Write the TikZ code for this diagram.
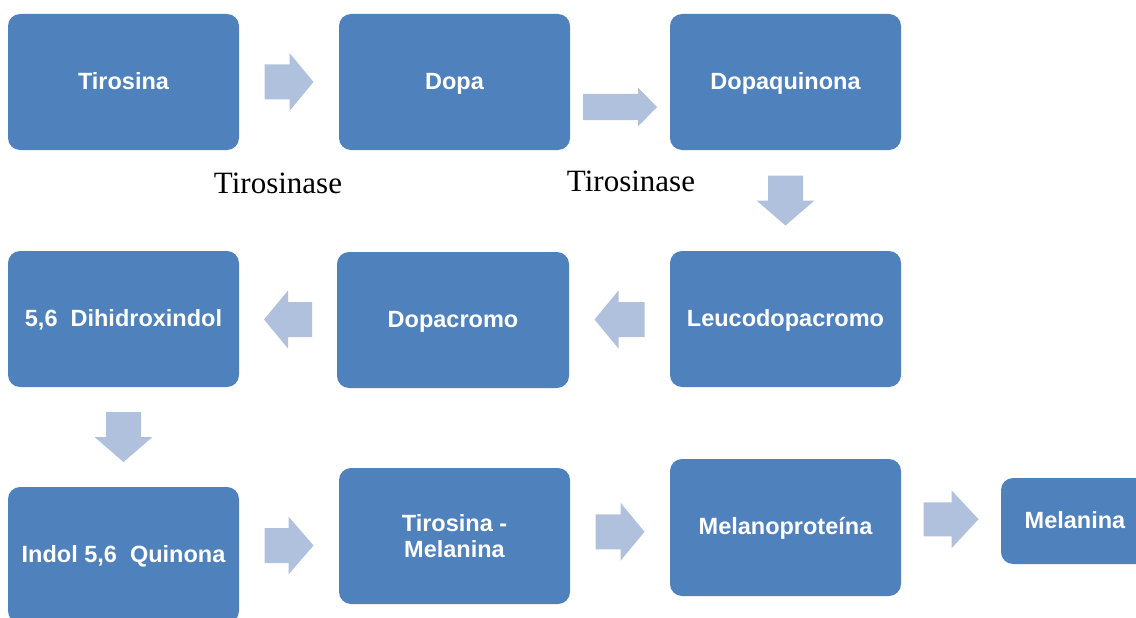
\documentclass[tikz,border=0pt]{standalone}
\usepackage{fontspec}
\setmainfont{Liberation Serif}
\setsansfont{Liberation Sans}
\usetikzlibrary{calc}
\definecolor{boxblue}{RGB}{79,129,189}
\definecolor{arrowblue}{RGB}{176,193,222}
\tikzset{
    stage_box/.style = {
        fill=boxblue,
        text=white,
        rounded corners=12pt,
        minimum width=231pt,
        minimum height=136pt,
        inner sep=0pt,
        align=center,
        font=\sffamily\bfseries\fontsize{23.5}{26}\selectfont
    },
    one_line/.style = {
        text height=18pt,
        text depth=4pt
    },
    flow_arrow/.style = {
        fill=arrowblue,
        draw=none
    },
    enzyme_label/.style = {
        font=\fontsize{31}{36}\selectfont,
        anchor=base,
        inner sep=0pt
    },
}
% block arrow: centre, angle, length, half shaft, half head, head length
\newcommand{\flowarrow}[6]{%
    \path[flow_arrow,shift={#1},rotate=#2]
        (-#3/2,-#4) -- ({#3/2-#6},-#4) -- ({#3/2-#6},-#5) -- (#3/2,0)
        -- ({#3/2-#6},#5) -- ({#3/2-#6},#4) -- (-#3/2,#4) -- cycle;}

\begin{document}
\begin{tikzpicture}[x=1pt,y=-1pt]
                \useasboundingbox (0,0) rectangle (1136,618);

                \node[stage_box, one_line] (tirosina) at (123.5,82) {Tirosina};
                \node[stage_box, one_line] (dopa) at (454.5,82) {Dopa};
                \node[stage_box, one_line] (dopaquinona) at (785.5,82) {Dopaquinona};

                \node[stage_box, one_line] (dihidroxindol) at (123.5,319) {5,6\ \ Dihidroxindol};
                \node[stage_box, one_line, minimum width=232pt] (dopacromo) at (453,320) {Dopacromo};
                \node[stage_box, one_line] (leucodopacromo) at (785.5,319) {Leucodopacromo};

                \node[stage_box, one_line] (indol_quinona) at (123.5,555) {Indol 5,6\ \ Quinona};
                \node[stage_box] (tirosina_melanina) at (454.5,536) {Tirosina -\\Melanina};
                \node[stage_box, one_line, minimum height=137pt] (melanoproteina) at (785.5,527.5) {Melanoprote\'ina};
                \node[stage_box, one_line, minimum width=148pt, minimum height=86pt] (melanina) at (1075,521) {Melanina};

                \node[enzyme_label] (enzima_a) at (278,193) {Tirosinase};
                \node[enzyme_label] (enzima_b) at (631,191) {Tirosinase};

                \flowarrow{($(tirosina.east)!0.5!(dopa.west)$)}{0}{49}{17.5}{29}{24}
                \flowarrow{($(dopa.east)!0.5!(dopaquinona.west)+(0,25)$)}{0}{74}{13}{19.5}{19}
                \flowarrow{($(dopaquinona.south)!0.5!(leucodopacromo.north)$)}{-90}{50}{17.5}{29}{25}
                \flowarrow{($(leucodopacromo.west)!0.5!(dopacromo.east)$)}{180}{50}{17.5}{29}{24}
                \flowarrow{($(dopacromo.west)!0.5!(dihidroxindol.east)$)}{180}{48}{17.5}{29}{24}
                \flowarrow{($(dihidroxindol.south)!0.5!(indol_quinona.north)$)}{-90}{50}{17.5}{29}{25}
                \flowarrow{($(indol_quinona.east)!0.5!(tirosina_melanina.west)$)}{0}{49}{17.5}{29}{25}
                \flowarrow{($(tirosina_melanina.east)!0.5!(melanoproteina.west)$)}{0}{49}{17.5}{29}{24}
                \flowarrow{($(melanoproteina.east)!0.5!(melanina.west)+(0,-5)$)}{0}{55}{17}{29}{27}
\end{tikzpicture}
\end{document}
